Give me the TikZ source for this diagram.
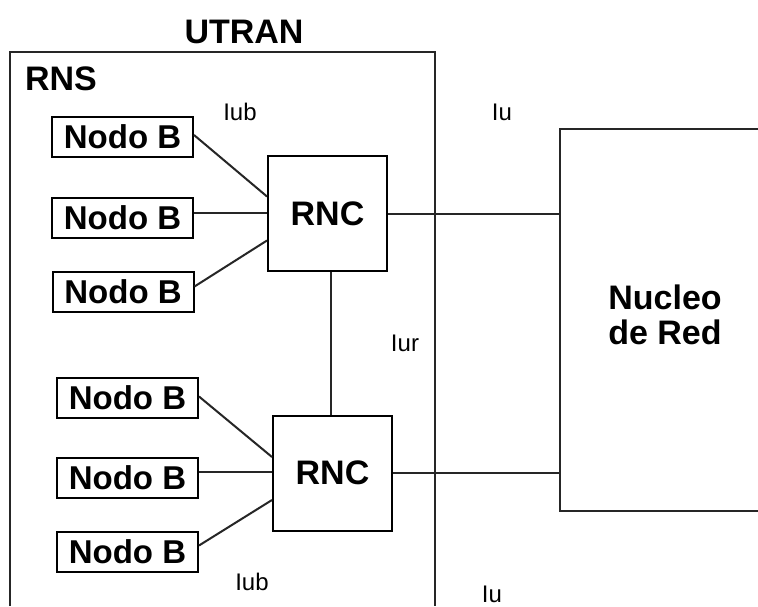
\documentclass[tikz,border=0pt]{standalone}
\usepackage{fontspec}
\setmainfont{Liberation Sans}
\begin{document}
\begin{tikzpicture}[x=1pt,y=-1pt,
  ln/.style={line width=2pt, black!85},
  nodob/.style={draw, line width=2pt, minimum width=141pt, minimum height=40pt, inner sep=0pt,
    font=\fontsize{33}{35}\selectfont\bfseries},
  rnc/.style={draw, line width=2pt, minimum width=119pt, minimum height=115pt, inner sep=0pt,
    font=\fontsize{34}{36}\selectfont\bfseries},
  big/.style={font=\fontsize{34}{36}\selectfont\bfseries, inner sep=0pt},
  small/.style={font=\fontsize{24}{26}\selectfont, inner sep=0pt}]
\useasboundingbox[fill=white] (0,0) rectangle (758,606);
% outer UTRAN / RNS box (open at the bottom)
\draw[ln] (10,606) -- (10,52) -- (435,52) -- (435,606);
\node[big] (utran) at (244,32) {UTRAN};
\node[big] (rns) at (61,79) {RNS};
% core network box (open at the right)
\node[minimum width=200pt, minimum height=382pt, inner sep=0pt] (nucleo) at (660,320) {};
\draw[ln] (nucleo.north east) -- (nucleo.north west) -- (nucleo.south west) -- (nucleo.south east);
\node[big, align=center, font=\fontsize{34}{35}\selectfont\bfseries] (nucleotxt) at (665,315) {Nucleo\\de Red};
% RNCs
\node[rnc] (rnc1) at (327.5,213.5) {RNC};
\node[rnc] (rnc2) at (332.5,473) {RNC};
% Nodo B
\node[nodob] (nb1) at (122.5,137) {Nodo B};
\node[nodob] (nb2) at (122.5,217.5) {Nodo B};
\node[nodob] (nb3) at (123,291.5) {Nodo B};
\node[nodob] (nb4) at (127.5,397.5) {Nodo B};
\node[nodob] (nb5) at (127.5,478) {Nodo B};
\node[nodob] (nb6) at (127.5,551.5) {Nodo B};
% Iub links
\draw[ln] ([yshift=2pt]nb1.east) -- ([yshift=17pt]rnc1.west);
\draw[ln] ([yshift=5pt]nb2.east) -- ([yshift=1pt]rnc1.west);
\draw[ln] ([yshift=5pt]nb3.east) -- ([yshift=-27pt]rnc1.west);
\draw[ln] ([yshift=1pt]nb4.east) -- ([yshift=16pt]rnc2.west);
\draw[ln] ([yshift=6pt]nb5.east) -- ([yshift=1pt]rnc2.west);
\draw[ln] ([yshift=6pt]nb6.east) -- ([yshift=-27pt]rnc2.west);
% Iur
\draw[ln] ([xshift=3.5pt]rnc1.south) -- ([xshift=-1.5pt]rnc2.north);
% Iu links
\draw[ln] (rnc1.east) -- (rnc1.east -| nucleo.west);
\draw[ln] (rnc2.east) -- (rnc2.east -| nucleo.west);
% labels
\node[small] (iub1) at (240,112) {Iub};
\node[small] (iub2) at (252,582) {Iub};
\node[small] (iur) at (405,343) {Iur};
\node[small] (iu1) at (502,112) {Iu};
\node[small] (iu2) at (492,594) {Iu};
\end{tikzpicture}
\end{document}
